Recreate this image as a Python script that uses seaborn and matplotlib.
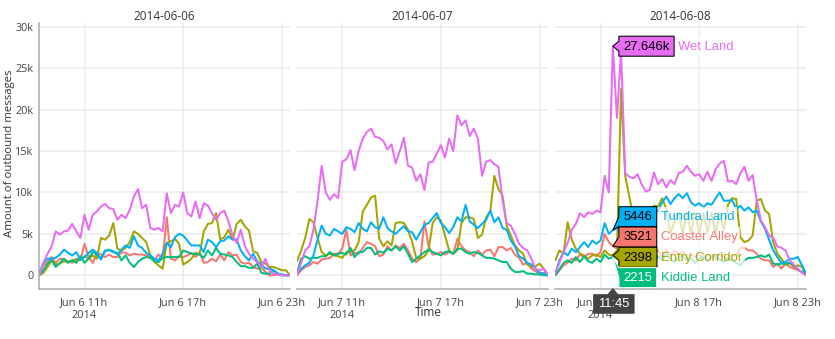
import numpy as np
import pandas as pd
import matplotlib
matplotlib.use("Agg")
import matplotlib.pyplot as plt
from matplotlib.patches import Polygon, Rectangle
from matplotlib.transforms import IdentityTransform
import seaborn as sns

# ---------------------------------------------------------------------------
# Outbound messages per park area, 15-minute bins from 08:15 to 23:30
# (values in thousands of messages)
# ---------------------------------------------------------------------------
days = ["2014-06-06", "2014-06-07", "2014-06-08"]
lands = ["Coaster Alley", "Entry Corridor", "Kiddie Land", "Tundra Land", "Wet Land"]
land_colors = ["#F8766D", "#A3A500", "#00BF7D", "#00B0F6", "#E76BF3"]
first_bin = "08:15"
n_bins = 62
hover_day = "2014-06-08"
hover_time = "11:45"

coaster_0606 = [0.0, 1.2, 1.6, 2.2, 1.5, 2.0, 1.9, 1.7, 1.5, 2.0,
                1.8, 3.8, 2.2, 1.5, 2.7, 2.5, 2.2, 2.5, 2.2, 2.2,
                2.8, 2.7, 2.4, 2.6, 2.5, 2.5, 2.4, 2.2, 1.8, 2.5,
                2.0, 7.0, 2.0, 1.8, 2.3, 2.2, 2.4, 2.7, 2.2, 2.8,
                1.5, 1.6, 2.0, 1.7, 2.5, 1.8, 2.8, 2.4, 2.5, 1.6,
                1.4, 1.5, 1.0, 0.8, 0.9, 0.4, 0.0, 0.0, 0.1, 0.0,
                0.0, 0.0]
entry_0606 = [0.0, 0.3, 1.0, 1.8, 1.3, 1.4, 1.7, 1.6, 1.8, 1.9,
              1.9, 2.3, 2.0, 2.4, 2.0, 4.5, 4.3, 4.8, 6.3, 3.2,
              3.0, 3.3, 4.0, 5.3, 5.0, 4.5, 4.0, 2.4, 1.6, 1.2,
              0.8, 3.9, 4.1, 4.4, 3.8, 1.3, 1.6, 2.0, 2.7, 2.5,
              5.3, 6.2, 6.3, 7.5, 4.3, 4.6, 5.5, 4.3, 6.2, 6.7,
              5.9, 5.4, 2.9, 2.7, 1.6, 1.4, 1.0, 1.0, 0.8, 0.6,
              0.6, 0.0]
kiddie_0606 = [0.0, 0.6, 1.4, 1.8, 1.0, 1.5, 2.0, 1.5, 1.8, 1.5,
               2.3, 1.5, 2.0, 2.8, 2.5, 2.0, 3.0, 3.0, 2.8, 2.7,
               1.8, 2.4, 1.5, 1.0, 1.6, 2.0, 2.2, 2.1, 1.7, 1.6,
               2.1, 2.2, 2.2, 2.2, 2.2, 3.0, 2.8, 2.6, 2.6, 2.5,
               2.1, 3.0, 2.4, 3.3, 2.6, 2.5, 2.4, 2.2, 1.6, 1.1,
               1.1, 0.9, 0.9, 1.4, 0.3, 0.2, 0.2, 0.6, 0.2, 0.0,
               0.0, 0.0]
tundra_0606 = [0.3, 1.5, 2.0, 2.0, 2.1, 2.5, 3.1, 2.7, 2.4, 2.8,
               1.9, 2.2, 2.7, 3.1, 2.7, 1.9, 2.9, 3.1, 2.9, 2.5,
               3.1, 3.6, 3.3, 4.7, 3.6, 3.3, 2.7, 2.4, 2.0, 1.8,
               2.6, 3.9, 3.4, 4.6, 5.0, 4.8, 4.2, 3.6, 3.6, 3.6,
               2.8, 4.3, 4.0, 3.4, 4.1, 4.2, 4.7, 4.3, 4.3, 3.0,
               2.3, 1.8, 2.6, 1.7, 1.3, 0.8, 0.8, 0.6, 0.2, 0.1,
               0.0, 0.0]
wet_0606 = [0.0, 1.5, 2.6, 3.5, 5.3, 4.9, 5.3, 5.4, 6.2, 5.3,
            4.5, 7.3, 5.5, 7.3, 7.7, 8.3, 8.6, 8.1, 8.0, 6.7,
            7.3, 6.9, 7.9, 9.5, 10.4, 8.1, 8.5, 5.7, 5.5, 5.7,
            5.3, 9.9, 7.5, 8.5, 8.3, 10.0, 7.5, 7.1, 8.9, 6.9,
            8.7, 8.4, 7.5, 6.7, 7.5, 7.8, 6.5, 4.8, 3.9, 5.5,
            3.5, 2.6, 2.0, 1.6, 1.0, 2.0, 0.5, 0.2, 0.1, 0.0,
            0.0, 0.0]

coaster_0607 = [0.0, 0.6, 1.0, 1.2, 1.6, 1.4, 1.9, 2.0, 2.1, 2.6,
                2.6, 3.2, 5.5, 2.4, 2.7, 2.6, 3.3, 4.0, 3.8, 3.5,
                2.3, 2.5, 3.5, 3.0, 3.6, 3.3, 3.8, 3.0, 2.0, 1.6,
                2.0, 6.5, 3.5, 2.5, 2.6, 2.8, 2.5, 2.8, 2.6, 4.4,
                3.5, 3.0, 2.8, 2.3, 3.0, 2.5, 3.0, 3.1, 2.3, 3.4,
                3.4, 3.0, 3.3, 2.5, 2.1, 1.3, 1.5, 0.8, 0.5, 0.1,
                0.3, 0.0]
entry_0607 = [1.7, 3.0, 4.5, 6.8, 6.4, 4.5, 2.8, 2.4, 2.6, 2.4,
              2.3, 2.1, 2.8, 2.9, 3.0, 4.0, 7.7, 8.5, 9.4, 9.6,
              4.4, 3.5, 4.1, 3.6, 6.3, 6.4, 6.3, 5.5, 4.0, 2.1,
              2.0, 2.3, 3.0, 6.3, 7.0, 6.6, 4.8, 3.0, 2.6, 3.0,
              6.3, 7.0, 7.0, 6.8, 4.5, 4.9, 7.0, 7.7, 12.0, 10.4,
              9.6, 6.0, 4.8, 3.6, 3.0, 2.6, 1.3, 1.0, 1.1, 1.4,
              0.8, 0.0]
kiddie_0607 = [0.2, 2.0, 2.3, 2.0, 2.1, 2.1, 2.3, 2.3, 2.8, 2.4,
               2.6, 2.7, 2.5, 3.3, 2.2, 2.8, 2.8, 3.3, 3.3, 2.5,
               2.9, 2.7, 3.2, 3.0, 3.5, 3.0, 3.5, 2.6, 1.6, 2.0,
               2.4, 2.8, 3.1, 2.8, 2.6, 2.4, 2.8, 2.9, 2.6, 3.2,
               3.2, 2.8, 2.6, 2.8, 2.7, 2.4, 2.1, 2.1, 2.0, 1.8,
               1.6, 1.6, 0.8, 0.4, 0.4, 0.5, 0.2, 0.2, 0.1, 0.1,
               0.0, 0.0]
tundra_0607 = [0.1, 0.8, 1.2, 1.5, 2.4, 4.3, 6.0, 5.0, 4.8, 5.6,
               5.3, 5.0, 5.8, 5.6, 5.2, 6.3, 5.6, 5.3, 6.4, 5.8,
               5.6, 7.0, 5.7, 5.3, 5.0, 5.5, 5.9, 5.3, 5.2, 4.3,
               5.2, 6.1, 6.3, 6.9, 7.5, 6.3, 5.8, 5.1, 5.8, 7.0,
               6.5, 8.5, 6.5, 6.1, 5.7, 6.2, 6.7, 7.8, 6.4, 7.0,
               5.7, 5.5, 4.2, 3.5, 2.3, 2.0, 1.5, 1.3, 0.8, 0.3,
               0.2, 0.0]
wet_0607 = [0.0, 1.5, 3.0, 3.5, 5.5, 9.0, 13.2, 10.0, 9.1, 9.8,
            9.3, 13.7, 14.0, 15.1, 12.7, 15.0, 16.5, 17.3, 17.7, 16.7,
            16.6, 16.2, 15.2, 15.8, 13.5, 15.0, 16.6, 13.2, 13.0, 11.4,
            12.2, 10.3, 13.6, 13.7, 14.7, 15.7, 14.2, 16.5, 15.0, 19.3,
            18.1, 18.7, 16.8, 17.7, 16.5, 12.0, 13.7, 13.9, 13.4, 13.1,
            9.0, 6.3, 6.0, 5.0, 3.8, 3.3, 3.0, 2.0, 0.8, 0.6,
            0.8, 0.1]

coaster_0608 = [0.0, 0.6, 1.2, 1.5, 2.0, 1.8, 2.5, 2.2, 2.6, 2.6,
                2.3, 2.8, 5.0, 4.0, 3.521, 3.2, 3.0, 2.8, 2.5, 3.2,
                2.6, 3.0, 2.4, 3.1, 2.5, 3.0, 2.2, 3.0, 2.4, 3.0,
                2.5, 2.8, 2.3, 2.6, 2.2, 2.5, 2.0, 2.5, 2.3, 2.0,
                2.7, 2.2, 2.0, 2.5, 2.3, 3.3, 3.3, 3.0, 3.0, 2.6,
                2.0, 1.8, 1.8, 1.0, 1.4, 0.8, 1.5, 1.0, 0.8, 0.6,
                0.4, 0.0]
entry_0608 = [1.8, 3.0, 2.6, 6.4, 4.3, 3.2, 2.6, 2.4, 2.0, 2.4,
              2.5, 2.2, 3.0, 2.5, 2.398, 3.0, 22.5, 12.0, 9.5, 7.0,
              5.5, 5.2, 5.5, 7.8, 8.4, 8.3, 9.3, 8.0, 5.0, 6.5,
              7.6, 5.0, 7.6, 5.0, 7.6, 5.0, 7.5, 5.2, 7.6, 5.0,
              7.5, 5.5, 8.5, 9.3, 9.2, 4.6, 4.0, 4.2, 4.8, 9.0,
              9.2, 7.8, 7.4, 4.0, 2.6, 2.0, 1.2, 1.5, 1.0, 1.2,
              1.0, 0.0]
kiddie_0608 = [0.0, 0.7, 1.5, 1.8, 1.5, 2.2, 1.6, 2.3, 1.7, 1.5,
               2.0, 1.6, 2.5, 2.0, 2.215, 0.9, 1.5, 1.8, 2.0, 1.6,
               2.2, 1.8, 2.4, 2.0, 1.7, 2.3, 1.9, 2.5, 2.0, 1.6,
               2.2, 2.4, 1.8, 2.1, 1.5, 2.0, 2.3, 1.7, 2.2, 2.5,
               1.9, 1.6, 2.1, 1.8, 1.5, 1.2, 1.8, 2.1, 2.1, 2.2,
               2.4, 2.2, 2.5, 1.4, 1.3, 1.4, 1.4, 1.5, 1.2, 0.7,
               0.4, 0.2]
tundra_0608 = [0.2, 1.8, 2.8, 2.4, 3.2, 2.8, 3.4, 4.0, 3.4, 4.2,
               3.8, 4.2, 6.3, 5.0, 5.446, 5.8, 4.8, 5.5, 6.0, 6.5,
               7.0, 7.5, 7.8, 8.0, 7.5, 7.8, 8.8, 9.5, 8.6, 9.3,
               9.8, 9.3, 9.9, 8.8, 8.4, 8.7, 8.2, 8.7, 8.5, 9.3,
               10.0, 9.0, 9.0, 9.1, 8.0, 8.4, 7.8, 8.2, 7.6, 7.8,
               6.5, 5.6, 4.3, 3.0, 2.2, 1.5, 1.6, 2.0, 2.0, 2.2,
               1.2, 0.2]
wet_0608 = [0.2, 1.5, 2.8, 3.9, 5.5, 6.2, 7.5, 7.0, 7.6, 7.4,
            7.8, 7.6, 12.0, 10.0, 27.646, 19.0, 27.0, 12.3, 11.9, 11.7,
            12.2, 11.0, 10.1, 10.3, 12.4, 11.0, 11.6, 10.6, 11.5, 11.0,
            12.3, 12.5, 13.2, 12.5, 12.0, 12.2, 11.4, 12.5, 11.4, 12.8,
            13.5, 13.8, 11.3, 11.4, 11.0, 12.3, 13.1, 11.4, 12.1, 9.0,
            6.6, 5.8, 4.8, 4.5, 3.5, 3.3, 3.0, 1.8, 1.3, 0.8,
            0.3, 0.0]

series_by_day = {
    "2014-06-06": [coaster_0606, entry_0606, kiddie_0606, tundra_0606, wet_0606],
    "2014-06-07": [coaster_0607, entry_0607, kiddie_0607, tundra_0607, wet_0607],
    "2014-06-08": [coaster_0608, entry_0608, kiddie_0608, tundra_0608, wet_0608],
}

frames = []
for day in days:
    times = pd.date_range(f"{day} {first_bin}", periods=n_bins, freq="15min")
    for land, vals in zip(lands, series_by_day[day]):
        frames.append(pd.DataFrame({
            "day": day,
            "time": times,
            "land": land,
            "messages": np.round(np.array(vals) * 1000),
        }))
df = pd.concat(frames, ignore_index=True)
palette = dict(zip(lands, land_colors))

# ---------------------------------------------------------------------------
# Figure
# ---------------------------------------------------------------------------
sns.set_style("white")
plt.rcParams["font.family"] = ["Open Sans", "DejaVu Sans"]
HOVER_FONT = ["Liberation Sans", "DejaVu Sans"]

W, H = 835, 339
fig = plt.figure(figsize=(W / 100, H / 100), dpi=100)
fig.patch.set_facecolor("white")

panel_left = [39.3, 297.0, 555.3]
panel_w = 250.8
panel_top = 23.3
panel_h = 265.4

grid_c = "#ebebeb"
axis_c = "#a9a9a9"
text_c = "#444444"

axes = []
for k, day in enumerate(days):
    ax = fig.add_axes([panel_left[k] / W, 1 - (panel_top + panel_h) / H,
                       panel_w / W, panel_h / H])
    axes.append(ax)
    sub = df[df["day"] == day]
    sns.lineplot(data=sub, x="time", y="messages", hue="land", hue_order=lands,
                 palette=palette, linewidth=1.45, legend=False, estimator=None,
                 ax=ax)
    times = sub["time"].drop_duplicates()
    ax.set_xlim(times.min(), times.max())
    ax.set_ylim(-1620, 30410)

    ticks = [pd.Timestamp(f"{day} {h:02d}:00") for h in (11, 17, 23)]
    labels = [f"{t:%b} {t.day} {t.hour}h" for t in ticks]
    labels[0] += f"\n{ticks[0].year}"
    ax.set_xticks(ticks)
    ax.set_xticklabels(labels, linespacing=1.25)

    yticks = list(range(0, 30001, 5000))
    ax.set_yticks(yticks)
    if k == 0:
        ax.set_yticklabels([f"{v // 1000}k" if v else "0" for v in yticks])
    else:
        ax.set_yticklabels([])

    ax.grid(True, color=grid_c, linewidth=1.1)
    ax.set_axisbelow(True)
    for side in ("top", "right"):
        ax.spines[side].set_visible(False)
    ax.spines["bottom"].set_color(axis_c)
    ax.spines["bottom"].set_linewidth(1.1)
    if k == 0:
        ax.spines["left"].set_color(axis_c)
        ax.spines["left"].set_linewidth(1.1)
    else:
        ax.spines["left"].set_visible(False)

    ax.tick_params(axis="x", direction="out", length=3.2, width=0.8,
                   color=axis_c, pad=2.6, labelsize=7.9, labelcolor=text_c)
    ax.tick_params(axis="y", direction="out", length=3.2 if k == 0 else 0,
                   width=0.8, color=axis_c, pad=1.2, labelsize=7.8,
                   labelcolor=text_c)
    ax.set_xlabel("")
    ax.set_ylabel("")

    fig.text((panel_left[k] + panel_w / 2) / W, 1 - 17 / H, day,
             ha="center", va="center", fontsize=8.5, color="#333333")

fig.text(9.2 / W, 1 - 153 / H, "Amount of outbound messages", rotation=90,
         ha="center", va="center", fontsize=8.2, color="#333333")
fig.text(428 / W, 1 - 313 / H, "Time", ha="center", va="center",
         fontsize=8.5, color="#333333")

# ---------------------------------------------------------------------------
# Hover read-out at one time step of the last day
# ---------------------------------------------------------------------------
fig.canvas.draw()
renderer = fig.canvas.get_renderer()
ident = IdentityTransform()
ax3 = axes[days.index(hover_day)]
t_hover = pd.Timestamp(f"{hover_day} {hover_time}")
hover_rows = df[(df["day"] == hover_day) & (df["time"] == t_hover)]


def contrast_text(hex_color):
    r, g, b = (int(hex_color[i:i + 2], 16) for i in (1, 3, 5))
    return "black" if (r * 299 + g * 587 + b * 114) / 1000 >= 128 else "white"


def fmt_value(v):
    return f"{v / 1000:.3f}k" if v >= 10000 else f"{v:.0f}"


def hover_label(tip, cy, value, land):
    bg = palette[land]
    fg = contrast_text(bg)
    tx, ty = tip
    hh = 10.0
    pad = 4.5
    left = tx + 6
    t = fig.text(0, 0, fmt_value(value), transform=ident, fontsize=9.36,
                 family=HOVER_FONT, color=fg, ha="left", va="center", zorder=7)
    tw = t.get_window_extent(renderer).width
    t.set_position((left + pad, cy - 0.5))
    right = left + tw + 2 * pad
    bc = min(max(ty, cy - hh + 5), cy + hh - 5)
    pts = [(tx, ty), (left, bc - 5), (left, cy - hh), (right, cy - hh),
           (right, cy + hh), (left, cy + hh), (left, bc + 5)]
    fig.add_artist(Polygon(pts, closed=True, transform=ident, facecolor=bg,
                           edgecolor=fg, linewidth=0.75, zorder=6))
    n = fig.text(right + 4, cy - 0.5, land, transform=ident, fontsize=9.36,
                 family=HOVER_FONT, color=bg, ha="left", va="center", zorder=7)
    nw = n.get_window_extent(renderer).width
    fig.add_artist(Rectangle((right + 1, cy - hh), nw + 6, 2 * hh,
                             transform=ident, facecolor="white", alpha=0.72,
                             edgecolor="none", zorder=5))


tips = {}
for _, row in hover_rows.iterrows():
    x_num = matplotlib.dates.date2num(row["time"])
    tips[row["land"]] = (ax3.transData.transform((x_num, row["messages"])),
                         row["messages"])

# the top series gets its own label; the rest are stacked without overlap
top_land = max(tips, key=lambda l: tips[l][1])
(tx, ty), v = tips[top_land]
hover_label((tx, ty), ty, v, top_land)

rest = sorted([l for l in tips if l != top_land], key=lambda l: -tips[l][0][1])
spacing = 20.3
mean_y = np.mean([tips[l][0][1] for l in rest])
for k, land in enumerate(rest):
    cy = mean_y + spacing * ((len(rest) - 1) / 2 - k)
    hover_label(tuple(tips[land][0]), cy, tips[land][1], land)

# time read-out on the x axis
ax_bottom = ax3.transAxes.transform((0, 0))[1]
tx = tips[top_land][0][0]
xt = fig.text(tx + 1, ax_bottom - 15.5, f"{t_hover:%H:%M}", transform=ident,
              fontsize=9.36, family=HOVER_FONT, color="white", ha="center",
              va="center", zorder=7)
xw = xt.get_window_extent(renderer).width
bw = xw + 9
top = ax_bottom - 6
bot = top - 18.5
pts = [(tx, ax_bottom), (tx + 5, top), (tx + 1 + bw / 2, top), (tx + 1 + bw / 2, bot),
       (tx + 1 - bw / 2, bot), (tx + 1 - bw / 2, top), (tx - 5, top)]
fig.add_artist(Polygon(pts, closed=True, transform=ident, facecolor="#444444",
                       edgecolor="#444444", linewidth=0.75, zorder=6))

fig.savefig("out.png", dpi=100, facecolor="white")
